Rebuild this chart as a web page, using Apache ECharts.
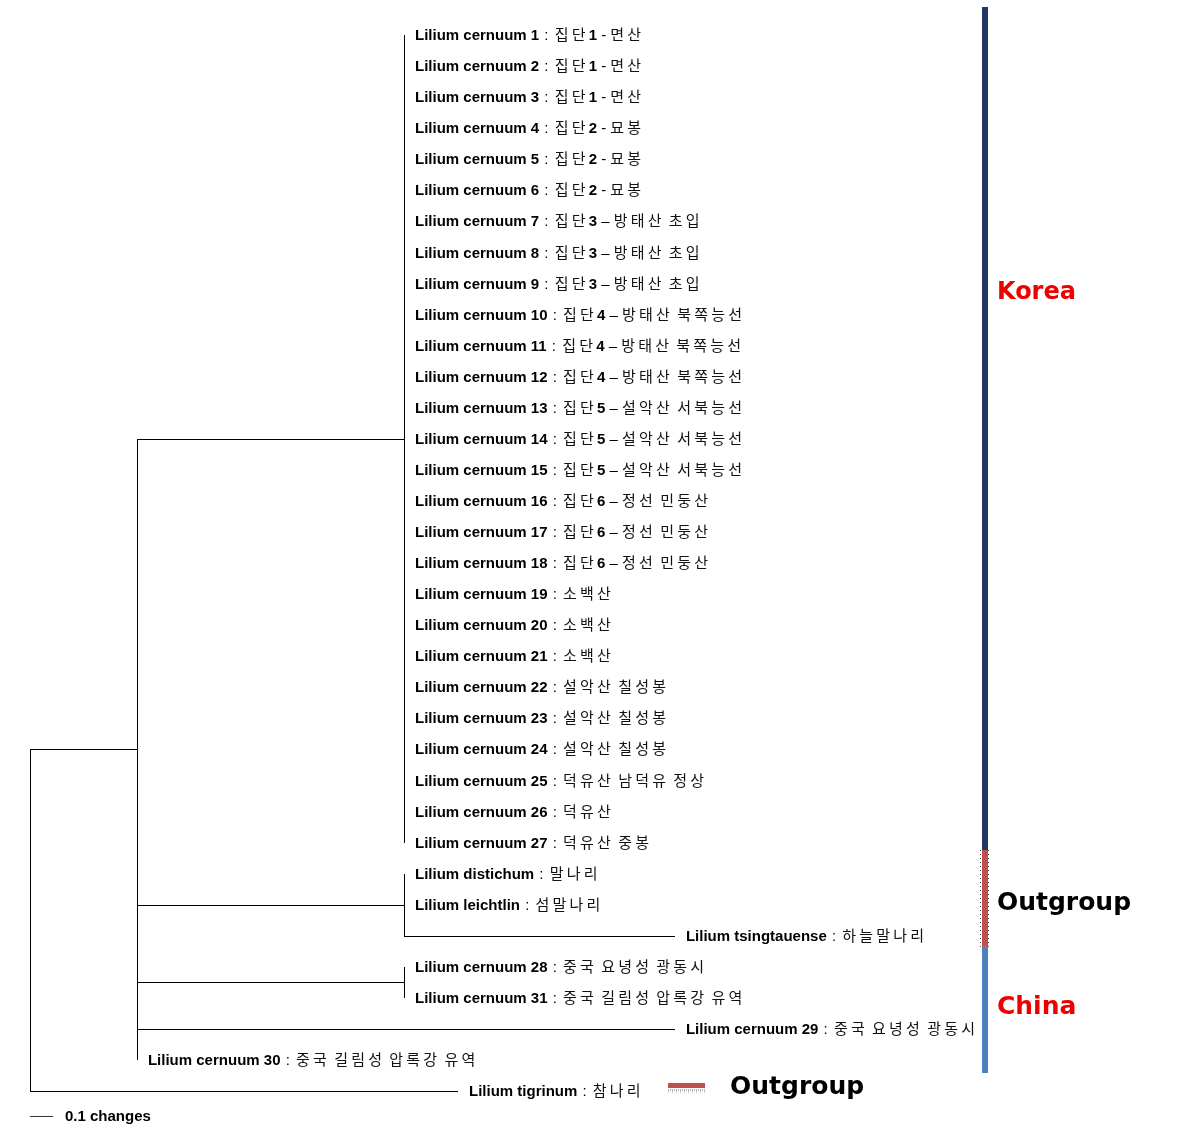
<!DOCTYPE html>
<html><head><meta charset="utf-8">
<script src="https://cdn.jsdelivr.net/npm/echarts@6/dist/echarts.min.js"></script>
<style>html,body{margin:0;padding:0;background:#fff}#c{width:1197px;height:1140px}</style>
</head><body><div id="c"></div>
<script>
// ---- DATA ----
const leafNames = [
  'Lilium cernuum 1','Lilium cernuum 2','Lilium cernuum 3','Lilium cernuum 4','Lilium cernuum 5',
  'Lilium cernuum 6','Lilium cernuum 7','Lilium cernuum 8','Lilium cernuum 9','Lilium cernuum 10',
  'Lilium cernuum 11','Lilium cernuum 12','Lilium cernuum 13','Lilium cernuum 14','Lilium cernuum 15',
  'Lilium cernuum 16','Lilium cernuum 17','Lilium cernuum 18','Lilium cernuum 19','Lilium cernuum 20',
  'Lilium cernuum 21','Lilium cernuum 22','Lilium cernuum 23','Lilium cernuum 24','Lilium cernuum 25',
  'Lilium cernuum 26','Lilium cernuum 27','Lilium distichum','Lilium leichtlin','Lilium tsingtauense',
  'Lilium cernuum 28','Lilium cernuum 31','Lilium cernuum 29','Lilium cernuum 30','Lilium tigrinum'
];
const leafPlaces = [
  '집단1 - 면산','집단1 - 면산','집단1 - 면산','집단2 - 묘봉','집단2 - 묘봉','집단2 - 묘봉',
  '집단3 – 방태산 초입','집단3 – 방태산 초입','집단3 – 방태산 초입',
  '집단4 – 방태산 북쪽능선','집단4 – 방태산 북쪽능선','집단4 – 방태산 북쪽능선',
  '집단5 – 설악산 서북능선','집단5 – 설악산 서북능선','집단5 – 설악산 서북능선',
  '집단6 – 정선 민둥산','집단6 – 정선 민둥산','집단6 – 정선 민둥산',
  '소백산','소백산','소백산','설악산 칠성봉','설악산 칠성봉','설악산 칠성봉',
  '덕유산 남덕유 정상','덕유산','덕유산 중봉',
  '말나리','섬말나리','하늘말나리',
  '중국 요녕성 광동시','중국 길림성 압록강 유역','중국 요녕성 광동시','중국 길림성 압록강 유역',
  '참나리'
];
// tree topology with branch lengths (changes); leaves are indices into leafNames
const treeNewick =
  "(((0:0,1:0,2:0,3:0,4:0,5:0,6:0,7:0,8:0,9:0,10:0,11:0,12:0,13:0,14:0,15:0,16:0,17:0,18:0," +
  "19:0,20:0,21:0,22:0,23:0,24:0,25:0,26:0):1.161,(27:0,28:0,29:1.178):1.161,(30:0,31:0):1.161," +
  "32:2.339,33:0):0.465,34:1.861);";
const groupNames = ['Korea', 'Outgroup', 'China'];
const groupFrom = [-0.9, 26.24, 29.36];   // row span of each group bar
const groupTo   = [26.24, 29.36, 33.42];
const groupLabelRow = [8.3, 27.95, 31.3];
const scaleBarLength = 0.1;
const scaleBarLabel = '0.1 changes';
const legendLabel = 'Outgroup';

// ---- LAYOUT / STYLE ----
const groupColors = ['#1F3864', '#C0504D', '#4F81BD'];
const groupTextColors = ['#EE0000', '#000000', '#EE0000'];
const annotX = 4.152;        // x of the group bars (in axis units)
const scaleRow = 34.8;
const legendX = [2.774, 2.935], legendRow = 33.87;
const FONT = "'Liberation Sans', 'Noto Sans CJK KR', sans-serif";
const BIGFONT = "'DejaVu Sans', 'Noto Sans CJK KR', sans-serif";

// ---- tree parsing & layout ----
function parseNewick(str) {
  const s = str.replace(/\s+/g, '');
  let i = 0;
  function node() {
    const n = { children: [], len: 0 };
    if (s[i] === '(') {
      i++;
      n.children.push(node());
      while (s[i] === ',') { i++; n.children.push(node()); }
      i++;
    }
    let name = '';
    while (i < s.length && !':,);'.includes(s[i])) name += s[i++];
    if (name !== '') n.leaf = +name;
    if (s[i] === ':') {
      i++; let num = '';
      while (i < s.length && !',);'.includes(s[i])) num += s[i++];
      n.len = +num;
    }
    return n;
  }
  return node();
}
const root = parseNewick(treeNewick);
function layout(n, px) {
  n.x = px + n.len;
  if (!n.children.length) { n.y = n.leaf; }
  else {
    n.children.forEach(c => layout(c, n.x));
    n.y = (n.children[0].y + n.children[n.children.length - 1].y) / 2;
  }
}
layout(root, 0);
const segments = [];
const leaves = [];
(function walk(n, parent) {
  if (parent && n.x > parent.x) segments.push([parent.x, n.y, n.x, n.y]);
  if (n.children.length) {
    segments.push([n.x, n.children[0].y, n.x, n.children[n.children.length - 1].y]);
    n.children.forEach(c => walk(c, n));
  } else {
    leaves.push([n.x, n.y, leafNames[n.leaf], leafPlaces[n.leaf]]);
  }
})(root, null);

// place text: Hangul glyphs get a wider pitch (like the original Gulim rendering), digits are bold
function richLabel(name, place) {
  let out = '{b|' + name + '}{c| : }';
  let buf = '', kind = '';
  const flush = () => { if (buf) out += '{' + kind + '|' + buf + '}'; buf = ''; };
  for (const ch of place) {
    if (/[\uAC00-\uD7A3]/.test(ch)) { flush(); out += '{k|' + ch + '}'; kind = ''; continue; }
    const k = /\d/.test(ch) ? 'd' : 'n';
    if (k !== kind) { flush(); kind = k; }
    buf += ch;
  }
  flush();
  return out;
}
const crisp = v => Math.round(v) + 0.5;

const chart = echarts.init(document.getElementById('c'), null, { renderer: 'canvas' });
chart.setOption({
  animation: false,
  backgroundColor: '#ffffff',
  grid: { left: 30, right: 132, top: 3.94, bottom: 17.94, containLabel: false },
  xAxis: { type: 'value', min: 0, max: 4.5, show: false },
  yAxis: { type: 'value', min: -1, max: 35, inverse: true, show: false },
  series: [
    { // tree branches
      type: 'custom', silent: true,
      encode: { x: [0, 2], y: [1, 3] },
      data: segments,
      renderItem(params, api) {
        const a = api.coord([api.value(0), api.value(1)]);
        const b = api.coord([api.value(2), api.value(3)]);
        const vertical = Math.abs(a[0] - b[0]) < 0.5;
        const x1 = vertical ? crisp(a[0]) : Math.round(a[0]);
        const x2 = vertical ? crisp(b[0]) : Math.round(b[0]);
        const y1 = vertical ? Math.round(a[1]) : crisp(a[1]);
        const y2 = vertical ? Math.round(b[1]) : crisp(b[1]);
        return { type: 'line', shape: { x1, y1, x2, y2 }, style: { stroke: '#000', lineWidth: 1 } };
      }
    },
    { // leaf labels
      type: 'scatter', silent: true, symbolSize: 0,
      itemStyle: { opacity: 1 },
      data: leaves,
      label: {
        show: true, position: 'right', distance: 11, offset: [0, 1], color: '#000', opacity: 1,
        formatter: p => richLabel(p.value[2], p.value[3]),
        rich: {
          b: { fontFamily: FONT, fontSize: 15, fontWeight: 'bold', color: '#000' },
          c: { fontFamily: FONT, fontSize: 15, fontWeight: 'normal', color: '#000', padding: [0, 2, 0, 1] },
          d: { fontFamily: FONT, fontSize: 15, fontWeight: 'bold', color: '#000' },
          n: { fontFamily: FONT, fontSize: 15, fontWeight: 'normal', color: '#000' },
          k: { fontFamily: FONT, fontSize: 15, fontWeight: 'normal', color: '#111', width: 17, align: 'left' }
        }
      }
    },
    { // group bars
      type: 'custom', silent: true,
      encode: { x: 0, y: [1, 2] },
      data: groupNames.map((g, i) => [annotX, groupFrom[i], groupTo[i], i]),
      renderItem(params, api) {
        const a = api.coord([api.value(0), api.value(1)]);
        const b = api.coord([api.value(0), api.value(2)]);
        const i = api.value(3);
        const children = [{ type: 'rect', shape: { x: Math.round(a[0]) - 3, y: a[1], width: 6, height: b[1] - a[1] },
          style: { fill: groupColors[i] } }];
        if (i === 1) {
          [-4.5, 3.5].forEach(dx => children.push({ type: 'line',
            shape: { x1: Math.round(a[0]) + dx, y1: a[1], x2: Math.round(a[0]) + dx, y2: b[1] },
            style: { stroke: '#444', lineWidth: 1, lineDash: [1, 3] } }));
        }
        return { type: 'group', children };
      }
    },
    { // group labels
      type: 'scatter', silent: true, symbolSize: 0,
      itemStyle: { opacity: 1 },
      data: groupNames.map((g, i) => ({
        value: [annotX, groupLabelRow[i], g],
        label: { color: groupTextColors[i], fontSize: i === 0 ? 24 : 25 }
      })),
      label: {
        show: true, position: 'right', distance: 12, opacity: 1,
        formatter: p => p.value[2],
        fontFamily: BIGFONT, fontWeight: 'bold'
      }
    },
    { // scale bar
      type: 'custom', silent: true,
      encode: { x: [0, 1], y: 2 },
      data: [[0, scaleBarLength, scaleRow]],
      renderItem(params, api) {
        const a = api.coord([api.value(0), api.value(2)]);
        const b = api.coord([api.value(1), api.value(2)]);
        return { type: 'group', children: [
          { type: 'line', shape: { x1: Math.round(a[0]), y1: crisp(a[1]), x2: Math.round(b[0]), y2: crisp(a[1]) },
            style: { stroke: '#333', lineWidth: 1 } },
          { type: 'text', x: Math.round(b[0]) + 12, y: a[1] + 1,
            style: { text: scaleBarLabel, font: 'bold 15px ' + FONT, fill: '#000', verticalAlign: 'middle', align: 'left' } }
        ] };
      }
    },
    { // legend key
      type: 'custom', silent: true,
      encode: { x: [0, 1], y: 2 },
      data: [[legendX[0], legendX[1], legendRow]],
      renderItem(params, api) {
        const a = api.coord([api.value(0), api.value(2)]);
        const b = api.coord([api.value(1), api.value(2)]);
        return { type: 'group', children: [
          { type: 'rect', shape: { x: a[0], y: a[1] - 4, width: b[0] - a[0], height: 5 }, style: { fill: groupColors[1] } },
          { type: 'line', shape: { x1: a[0], y1: a[1] + 3, x2: b[0], y2: a[1] + 3 }, style: { stroke: '#666', lineWidth: 1, lineDash: [1, 1] } },
          { type: 'line', shape: { x1: a[0], y1: a[1] + 5, x2: b[0], y2: a[1] + 5 }, style: { stroke: '#999', lineWidth: 1, lineDash: [1, 3] } },
          { type: 'text', x: b[0] + 25, y: a[1] + 1,
            style: { text: legendLabel, font: 'bold 25px ' + BIGFONT, fill: '#000', verticalAlign: 'middle', align: 'left' } }
        ] };
      }
    }
  ]
});
</script>
</body></html>
